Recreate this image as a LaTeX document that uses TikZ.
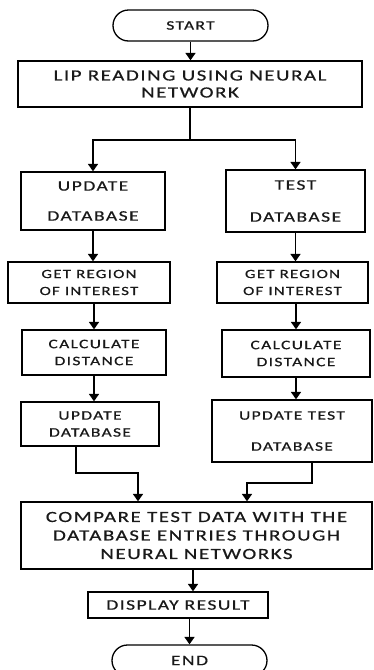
\documentclass[tikz,border=0pt]{standalone}
\usepackage{fontspec}
\setmainfont{Carlito}[FakeStretch=1.35,LetterSpace=10,FakeBold=0.6]
\usetikzlibrary{arrows.meta,shapes.misc}
\newcommand\fsz[2]{\fontsize{#1}{#2}\selectfont}
\begin{document}
\begin{tikzpicture}[x=1pt,y=-1pt,
  box/.style={draw, line width=1.3pt, inner sep=0pt, align=center, text=black!90},
  term/.style={draw, rounded rectangle, line width=1.3pt, inner sep=0pt, text=black!90,
               minimum width=155pt, minimum height=31pt},
  arr/.style={line width=1.7pt, -{Triangle[length=7.5pt,width=10pt]}},
  ln/.style={line width=1.7pt}]
\useasboundingbox (0,0) rectangle (374,670);
\fill[white] (0,0) rectangle (374,670);

\node[term, font=\fsz{13}{15}] (start) at (190.5,25.5) {START};
\node[box, minimum width=344pt, minimum height=46pt, font=\fsz{15.5}{17}] (lip) at (190,84)
  {LIP READING USING NEURAL\\NETWORK};

\node[box, minimum width=144pt, minimum height=58pt, font=\fsz{14.5}{17}] (upd1) at (93,201)
  {UPDATE\\[13pt]DATABASE};
\node[box, minimum width=139pt, minimum height=62pt, font=\fsz{14.5}{17}] (test) at (295.5,201)
  {TEST\\[15pt]DATABASE};

\node[box, minimum width=162pt, minimum height=41pt, font=\fsz{12.5}{17}] (gr1) at (89,282.5)
  {GET REGION\\OF INTEREST};
\node[box, minimum width=151pt, minimum height=41pt, font=\fsz{12.5}{17}] (gr2) at (292.5,282.5)
  {GET REGION\\OF INTEREST};

\node[box, minimum width=144pt, minimum height=45pt, font=\fsz{13}{17}] (cd1) at (94,352.5)
  {CALCULATE\\DISTANCE};
\node[box, minimum width=148pt, minimum height=47pt, font=\fsz{13}{17}] (cd2) at (296,353.5)
  {CALCULATE\\DISTANCE};

\node[box, minimum width=138pt, minimum height=44pt, font=\fsz{13}{17}] (ud1) at (90,424)
  {UPDATE\\DATABASE};
\node[box, minimum width=160pt, minimum height=62pt, font=\fsz{13}{17}] (ud2) at (292,431)
  {UPDATE TEST\\[14pt]DATABASE};

\node[box, minimum width=351pt, minimum height=67pt, font=\fsz{15.5}{18.5}] (cmp) at (196.5,535.5)
  {COMPARE TEST DATA WITH THE\\DATABASE ENTRIES THROUGH\\NEURAL NETWORKS};
\node[box, minimum width=180pt, minimum height=26pt, font=\fsz{14.5}{17}] (dsp) at (178,605)
  {DISPLAY RESULT};
\node[term, font=\fsz{14.5}{17}] (end) at (189.5,660.5) {END};

% connectors
\draw[arr] (start.south) -- (start.south |- lip.north);
\coordinate (split) at (190,140);
\draw[ln] (lip.south) -- (split);
\draw[arr] (split) -| (upd1.north);
\draw[arr] (split) -| (test.north);

\draw[arr] (upd1.south) -- (upd1.south |- gr1.north);
\draw[arr] (test.south) -- (test.south |- gr2.north);
\draw[arr] (cd1.north |- gr1.south) -- (cd1.north);
\draw[arr] (cd2.north |- gr2.south) -- (cd2.north);
\draw[arr] (cd1.south) -- (cd1.south |- ud1.north);
\draw[arr] (cd2.south) -- (cd2.south |- ud2.north);

\coordinate (m1) at (76,473);
\coordinate (in1) at (138,0);
\draw[arr] (m1 |- ud1.south) -- (m1) -| (in1 |- cmp.north);
\coordinate (m2) at (312,483);
\coordinate (in2) at (247,0);
\draw[arr] (m2 |- ud2.south) -- (m2) -| (in2 |- cmp.north);

\coordinate (a3) at (193,0);
\draw[arr] (a3 |- cmp.south) -- (a3 |- dsp.north);
\draw[arr] (end.north |- dsp.south) -- (end.north);
\end{tikzpicture}
\end{document}
